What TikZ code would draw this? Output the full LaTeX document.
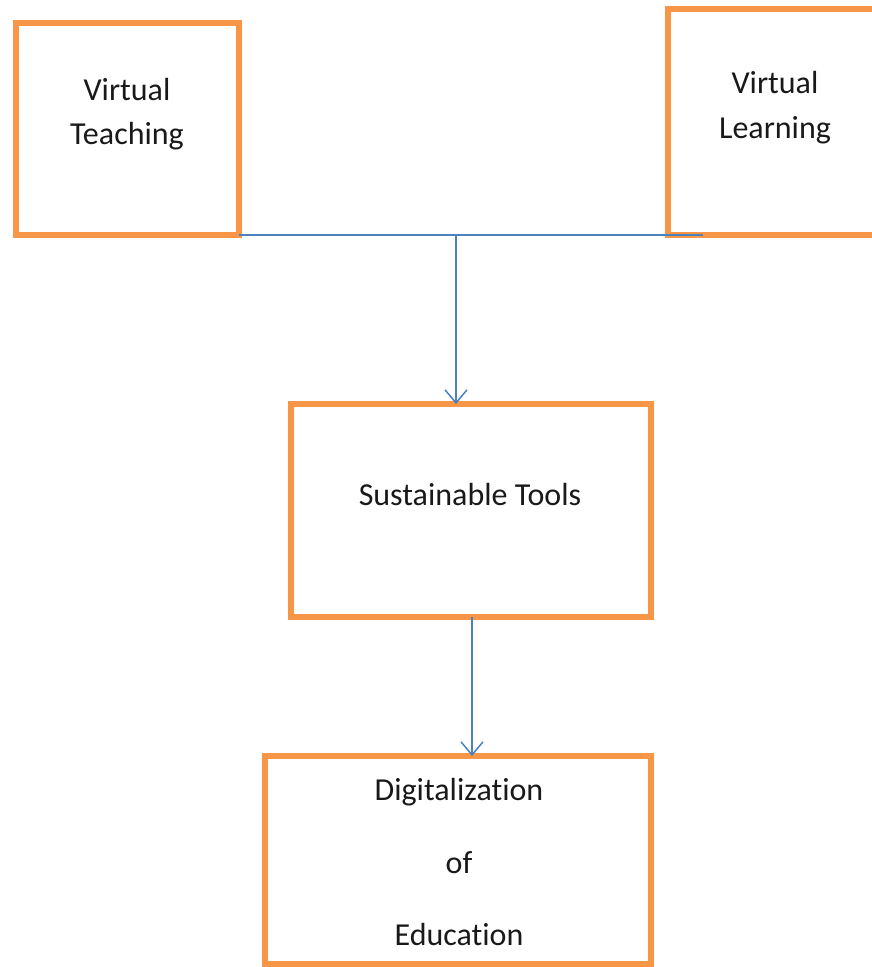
\documentclass[tikz,border=0pt]{standalone}
\usepackage{fontspec}
\setmainfont[RawFeature={-liga;-clig;-dlig}]{Carlito}
\usetikzlibrary{arrows.meta}
\definecolor{boxorange}{HTML}{F79646}
\definecolor{lineblue}{HTML}{4F81BD}
\tikzset{
  box/.style={draw=boxorange, line width=6.5pt, rectangle, inner sep=0pt, outer sep=0pt, fill=none},
  lbl/.style={anchor=base, inner sep=0pt, font=\fontsize{32}{40}\selectfont, text=black!90},
  conn/.style={draw=lineblue, line width=1.5pt},
  arr/.style={conn, -{Straight Barb[length=13pt,width=22pt,line width=1.5pt]}}
}
\begin{document}
\begin{tikzpicture}[x=1pt,y=-1pt]
\useasboundingbox (0,0) rectangle (871,967);
% boxes
\node[box, minimum width=223pt, minimum height=212pt] (vt) at (127.5,129) {};
\node[box, minimum width=232pt, minimum height=226pt] (vl) at (784,122) {};
\node[box, minimum width=360pt, minimum height=213pt] (st) at (471,510.5) {};
\node[box, minimum width=386pt, minimum height=208pt] (de) at (458,860) {};
% texts
\node[lbl] (vt1) at (127,100) {Virtual};
\node[lbl] (vt2) at (127,144) {Teaching};
\node[lbl] (vl1) at (775,93) {Virtual};
\node[lbl] (vl2) at (775,138) {Learning};
\node[lbl] (st1) at (470,505) {Sustainable Tools};
\node[lbl] (de1) at (459,800) {Digitalization};
\node[lbl] (de2) at (459,873) {of};
\node[lbl] (de3) at (459,945) {Education};
% connectors
\coordinate (jr) at (703,235);
\coordinate (jm) at (456,235);
\draw[conn] (vt.south east) -- (jr);
\draw[arr] (jm) -- (jm |- st.north);
\draw[arr] (st.south -| 472,0) -- (de.north -| 472,0);
\end{tikzpicture}
\end{document}
